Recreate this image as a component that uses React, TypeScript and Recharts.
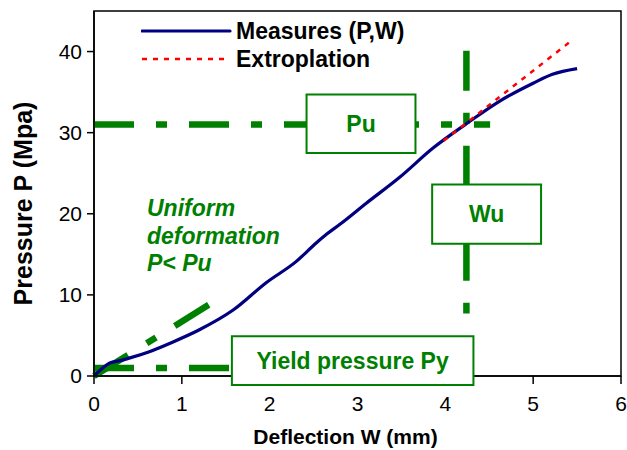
import React from 'react'
import {
  LineChart,
  Line,
  XAxis,
  YAxis,
  ReferenceLine,
  ReferenceArea,
} from 'recharts'

// measured pressure / deflection curve
const W_MEASURED = [0, 0.1, 0.18, 0.3, 0.4, 0.63, 0.9, 1.2, 1.58, 1.96, 2.3, 2.53, 2.65, 2.8, 3.1, 3.48, 3.86, 4.24, 4.62, 5.0, 5.22, 5.5]
const P_MEASURED = [0, 1.0, 1.6, 1.9, 2.2, 3.0, 4.2, 5.7, 8.1, 11.5, 14.1, 16.4, 17.5, 18.7, 21.3, 24.5, 28.1, 31.1, 33.9, 36.1, 37.2, 37.9]

// linear extrapolation of the elastic part
const W_EXTRA = [3.98, 5.42]
const P_EXTRA = [29.0, 41.2]

const X_TICKS = [0, 1, 2, 3, 4, 5, 6]
const Y_TICKS = [0, 10, 20, 30, 40]

const PU = 31
const WU = 4.24
const PY = 1

const measured = W_MEASURED.map((w, i) => ({ w, p: P_MEASURED[i] }))
const extrapolated = W_EXTRA.map((w, i) => ({ w, p: P_EXTRA[i] }))

const GREEN = '#008000'
const NAVY = '#000080'
const FONT = '"Liberation Sans", Arial, Helvetica, sans-serif'
const DASH = '40 22 11 22'

const boxLabel = (value: string) => ({
  value,
  position: 'center' as const,
  fill: GREEN,
  fontSize: 23,
  fontWeight: 700,
  fontFamily: FONT,
})

const LegendBox = () => (
  <div
    style={{
      position: 'absolute',
      left: 141,
      top: 17,
      fontFamily: FONT,
      fontSize: 23,
      fontWeight: 700,
      color: '#000',
      lineHeight: '28px',
    }}
  >
    <div style={{ display: 'flex', alignItems: 'center' }}>
      <svg width={95} height={28}>
        <line x1={1} y1={14} x2={89} y2={14} stroke={NAVY} strokeWidth={3.2} strokeLinecap="round" />
      </svg>
      <span>Measures (P,W)</span>
    </div>
    <div style={{ display: 'flex', alignItems: 'center' }}>
      <svg width={95} height={28}>
        <line x1={1} y1={14} x2={89} y2={14} stroke="#ff0000" strokeWidth={2.5} strokeDasharray="5 6" />
      </svg>
      <span>Extroplation</span>
    </div>
  </div>
)

const YTitle = ({ viewBox }: any) => {
  const cx = viewBox.x + 23
  const cy = viewBox.y + viewBox.height / 2 + 10
  return (
    <text
      x={cx}
      y={cy}
      transform={`rotate(-90, ${cx}, ${cy})`}
      textAnchor="middle"
      dominantBaseline="central"
      fontFamily={FONT}
      fontSize={25}
      fontWeight={700}
      fill="#000"
    >
      Pressure P (Mpa)
    </text>
  )
}

const XTitle = ({ viewBox }: any) => (
  <text
    x={viewBox.x + viewBox.width / 2 - 12}
    y={444}
    textAnchor="middle"
    fontFamily={FONT}
    fontSize={21}
    fontWeight={700}
    fill="#000"
  >
    Deflection W (mm)
  </text>
)

export default function App() {
  return (
    <div style={{ position: 'absolute', left: 0, top: 0, width: 627, height: 450, background: '#fff' }}>
      <LineChart width={627} height={450} margin={{ top: 11, right: 6, bottom: 0, left: 0 }}>
        <XAxis
          type="number"
          dataKey="w"
          domain={[0, 6]}
          ticks={X_TICKS}
          allowDataOverflow
          height={74}
          stroke="#000"
          strokeWidth={1.5}
          tickSize={8}
          tickMargin={12}
          tick={{ fill: '#000', fontSize: 21, fontFamily: FONT }}
          label={<XTitle />}
        />
        <YAxis
          type="number"
          dataKey="p"
          domain={[0, 45]}
          ticks={Y_TICKS}
          allowDataOverflow
          width={94}
          stroke="#000"
          strokeWidth={1.5}
          tickSize={7}
          tickMargin={5}
          tick={{ fill: '#000', fontSize: 21, fontFamily: FONT }}
          label={<YTitle />}
        />
        {/* frame around plot */}
        <ReferenceArea x1={0} x2={6} y1={0} y2={45} fill="none" stroke="#000" strokeWidth={1.5} />

        {/* construction lines */}
        <ReferenceLine segment={[{ x: 0, y: PU }, { x: 4.51, y: PU }]} stroke={GREEN} strokeWidth={6.5} strokeDasharray={DASH} />
        <ReferenceLine segment={[{ x: WU, y: 40.1 }, { x: WU, y: 7.7 }]} stroke={GREEN} strokeWidth={6.5} strokeDasharray={DASH} />
        <ReferenceLine segment={[{ x: 0, y: PY }, { x: 1.57, y: PY }]} stroke={GREEN} strokeWidth={6.5} strokeDasharray={DASH} />
        <ReferenceLine segment={[{ x: 0, y: 0 }, { x: 1.31, y: 8.8 }]} stroke={GREEN} strokeWidth={6.5} strokeDasharray={DASH} />

        <Line
          data={measured}
          dataKey="p"
          type="monotone"
          stroke={NAVY}
          strokeWidth={3.2}
          dot={false}
          isAnimationActive={false}
        />
        <Line
          data={extrapolated}
          dataKey="p"
          stroke="#ff0000"
          strokeWidth={2.5}
          strokeDasharray="5 6"
          dot={false}
          isAnimationActive={false}
        />

        {/* annotation boxes */}
        <ReferenceArea x1={2.42} x2={3.66} y1={27.5} y2={34.7} fill="#fff" fillOpacity={1} stroke={GREEN} strokeWidth={2} ifOverflow="visible" label={boxLabel('Pu')} zIndex={700} />
        <ReferenceArea x1={3.85} x2={5.09} y1={16.3} y2={23.6} fill="#fff" fillOpacity={1} stroke={GREEN} strokeWidth={2} ifOverflow="visible" label={boxLabel('Wu')} zIndex={700} />
        <ReferenceArea x1={1.57} x2={4.32} y1={-1.1} y2={4.9} fill="#fff" fillOpacity={1} stroke={GREEN} strokeWidth={2} ifOverflow="visible" label={boxLabel('Yield pressure Py')} zIndex={700} />
      </LineChart>
      <LegendBox />
      <div
        style={{
          position: 'absolute',
          left: 147,
          top: 195,
          color: GREEN,
          fontFamily: FONT,
          fontSize: 23,
          fontWeight: 700,
          fontStyle: 'italic',
          lineHeight: '27.5px',
        }}
      >
        Uniform
        <br />
        deformation
        <br />
        P&lt; Pu
      </div>
    </div>
  )
}
